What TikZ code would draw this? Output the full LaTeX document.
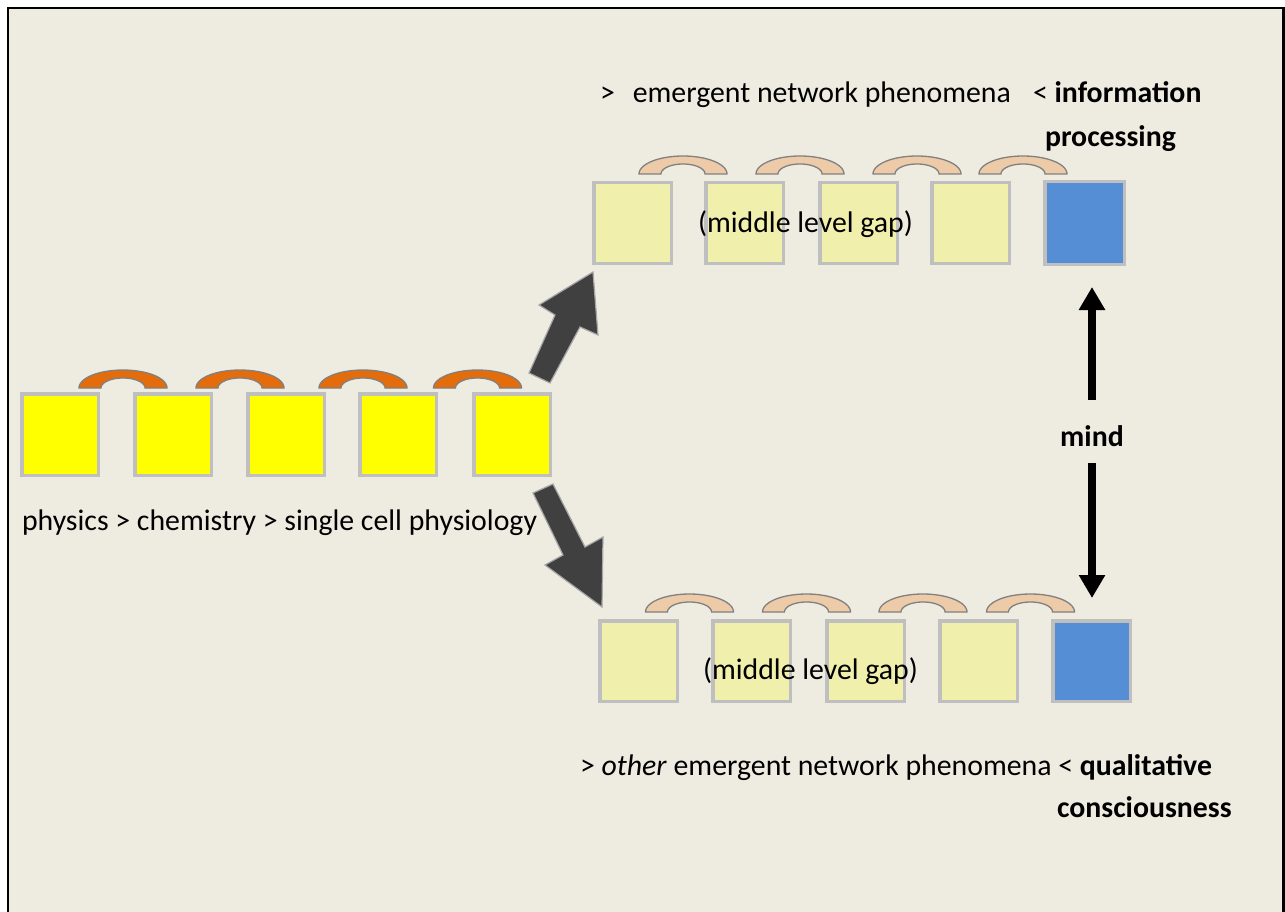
\documentclass[tikz,border=0pt]{standalone}
\usepackage{fontspec}
\setmainfont{Carlito}
\usetikzlibrary{arrows.meta}
\definecolor{bg}{HTML}{EEECE1}
\definecolor{boxgray}{HTML}{BFBFBF}
\definecolor{arcline}{HTML}{808080}
\definecolor{brightyellow}{HTML}{FFFF00}
\definecolor{paleyellow}{HTML}{F1EFAC}
\definecolor{bluebox}{HTML}{558ED5}
\definecolor{orangearc}{HTML}{E46C0A}
\definecolor{peacharc}{HTML}{EDCBA8}
\definecolor{darkarrow}{HTML}{404040}
\definecolor{arrowline}{HTML}{A6A6A6}
\newcommand\blockarc[3]{%
  \path[draw=arcline, line width=1.3pt, fill=#3]
    plot[domain=180:0,samples=40] ({#1+44*cos(\x)},{#2-18*sin(\x)})
    -- plot[domain=0:180,samples=40] ({#1+22*cos(\x)},{#2-10*sin(\x)}) -- cycle;}
\begin{document}
\begin{tikzpicture}[x=1pt,y=-1pt,
  boxstyle/.style={draw=boxgray, line width=3.5pt, minimum width=76.5pt, minimum height=81.5pt, inner sep=0pt, outer sep=0pt},
  ybox/.style={boxstyle, fill=brightyellow},
  pbox/.style={boxstyle, fill=paleyellow},
  bbox/.style={boxstyle, fill=bluebox},
  txt/.style={font=\fontsize{29.8}{36}\selectfont, inner sep=0pt, outer sep=0pt, anchor=base west, text=black},
  bigarrow/.style={fill=darkarrow, draw=arrowline, line width=1.2pt, line join=miter},
  mindarrow/.style={line width=8pt, -{Triangle[length=23pt,width=25pt]}}]
\useasboundingbox (0,0) rectangle (1285,912);
\fill[white] (0,0) rectangle (1285,912);
\fill[bg] (8,8) rectangle (1285,912);
\draw[line width=2.5pt, black] (8,913) -- (8,8) -- (1283.5,8) -- (1283.5,913);

% left row
\foreach \i/\cx in {1/60,2/173,3/286,4/398,5/512}
  \node[ybox] (l\i) at (\cx,434.5) {};
\blockarc{123}{388}{orangearc}
\blockarc{240}{388}{orangearc}
\blockarc{363}{388}{orangearc}
\blockarc{477.5}{388}{orangearc}

% top row
\foreach \i/\cx in {1/632.5,2/744.5,3/858.5,4/970.5}
  \node[pbox, minimum width=77.5pt, minimum height=80.5pt] (t\i) at (\cx,223) {};
\node[bbox, minimum width=79.5pt, minimum height=82.5pt] (t5) at (1084.5,223) {};
\blockarc{683}{174}{peacharc}
\blockarc{800}{174}{peacharc}
\blockarc{917}{174}{peacharc}
\blockarc{1023}{174}{peacharc}

% bottom row
\foreach \i/\cx in {1/638.5,2/751.5,3/865.5,4/978.5}
  \node[pbox, minimum width=77.5pt, minimum height=80.5pt] (b\i) at (\cx,661) {};
\node[bbox, minimum width=77.5pt, minimum height=80.5pt] (b5) at (1091.5,661) {};
\blockarc{689.5}{612}{peacharc}
\blockarc{806.5}{612}{peacharc}
\blockarc{923}{612}{peacharc}
\blockarc{1030.5}{612}{peacharc}

% big block arrows
\draw[bigarrow] (529,373) -- (555,315) -- (539,305) -- (593,272) -- (598,335) -- (580,327) -- (550,383) -- cycle;
\draw[bigarrow] (533,493) -- (563,555) -- (545,565) -- (602,607) -- (603,537) -- (585,547) -- (553,484) -- cycle;

% texts
\node[txt] (toptext) at (600,103) {>\hspace{18pt}emergent network phenomena};
\node[txt] (info) at (1033,103) {< \textbf{information}};
\node[txt] (proc) at (1045,147) {\textbf{processing}};
\node[txt] (gap1) at (698,233) {(middle level gap)};
\node[txt] (gap2) at (703,679) {(middle level gap)};
\node[txt] (phys) at (22,530) {physics > chemistry > single cell physiology};
\node[txt] (bottext) at (580,775) {> \textit{other} emergent network phenomena < \textbf{qualitative}};
\node[txt] (consc) at (1057,817) {\textbf{consciousness}};
\node[txt, anchor=base] (mind) at (1092,446) {\textbf{mind}};

% mind arrows
\coordinate (upstart) at (1092,400);
\coordinate (uptip) at (1092,287);
\coordinate (downstart) at (1092,463);
\coordinate (downtip) at (1092,598);
\draw[mindarrow] (upstart) -- (uptip);
\draw[mindarrow] (downstart) -- (downtip);
\end{tikzpicture}
\end{document}
